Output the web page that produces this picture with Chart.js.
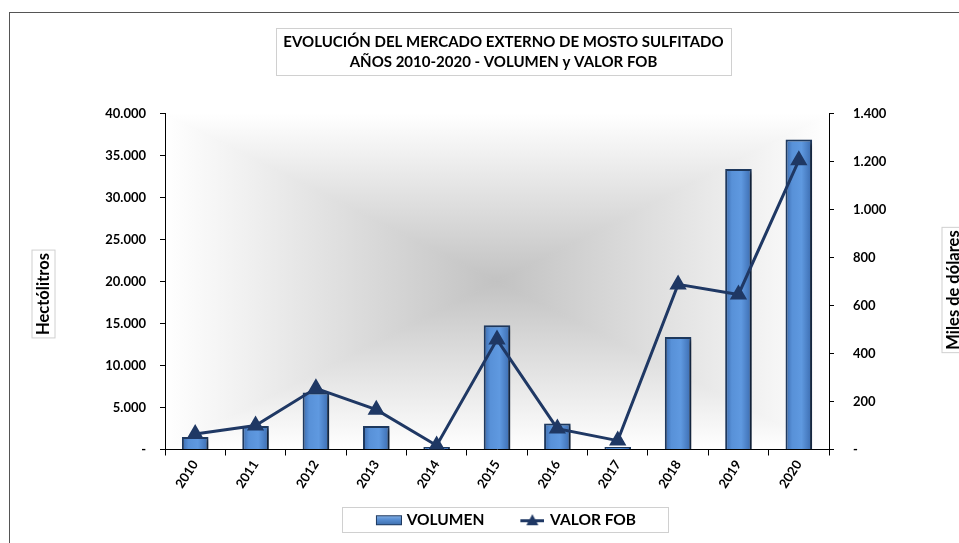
<!DOCTYPE html>
<html>
<head>
<meta charset="utf-8">
<script src="https://cdn.jsdelivr.net/npm/chart.js@4.4.1/dist/chart.umd.min.js"></script>
<style>
  html, body { margin: 0; padding: 0; background: #fff; }
  #wrap { width: 959px; height: 543px; }
</style>
</head>
<body>
<div id="wrap"><canvas id="chart" width="959" height="543"></canvas></div>
<script>
// data
var years = ['2010', '2011', '2012', '2013', '2014', '2015', '2016', '2017', '2018', '2019', '2020'];
var volumen = [1500, 2800, 6800, 2800, 300, 14800, 3100, 300, 13400, 33400, 36900];
var valorFob = [65, 100, 255, 166, 17, 458, 87, 37, 688, 646, 1205];
var volTicks = [0, 5000, 10000, 15000, 20000, 25000, 30000, 35000, 40000];
var fobTicks = [0, 200, 400, 600, 800, 1000, 1200, 1400];

var FONT = 'Lato, "Open Sans", sans-serif';
var NAVY = '#1F3864';
var BAR_PCT = 0.44;

function miles(v) {
    if (v === 0) return '-';
    return String(v).replace(/\B(?=(\d{3})+(?!\d))/g, '.');
}

// bar fill: darker edges, lighter middle (a bit like the bevel in the original)
function barFill(context) {
    var chart = context.chart;
    var xs = chart.scales && chart.scales.x;
    if (!xs || context.dataIndex === undefined || !chart.chartArea) return '#5891D8';
    var cx = xs.getPixelForValue(context.dataIndex);
    var half = xs.width / years.length * BAR_PCT / 2;
    var g = chart.ctx.createLinearGradient(cx - half, 0, cx + half, 0);
    g.addColorStop(0, '#3A6AAE');
    g.addColorStop(0.25, '#5891D8');
    g.addColorStop(0.6, '#5F99E0');
    g.addColorStop(1, '#3A6AAE');
    return g;
}

// legend icons (bar swatch and line with triangle)
function barIcon() {
    var c = document.createElement('canvas');
    c.width = 54; c.height = 12;
    var x = c.getContext('2d');
    var g = x.createLinearGradient(0, 1, 0, 11);
    g.addColorStop(0, '#8DB4E2');
    g.addColorStop(0.4, '#5A91D6');
    g.addColorStop(1, '#3E6DAA');
    x.fillStyle = g;
    x.fillRect(28, 1.5, 26, 9);
    x.strokeStyle = '#1F3A60';
    x.lineWidth = 1;
    x.strokeRect(28.5, 1.5, 25, 9);
    return c;
}
function lineIcon() {
    var c = document.createElement('canvas');
    c.width = 52; c.height = 14;
    var x = c.getContext('2d');
    x.strokeStyle = NAVY;
    x.lineWidth = 3;
    x.beginPath(); x.moveTo(28, 7.5); x.lineTo(52, 7.5); x.stroke();
    x.fillStyle = NAVY;
    x.beginPath(); x.moveTo(40, 1); x.lineTo(46, 12); x.lineTo(34, 12); x.closePath(); x.fill();
    return c;
}

// rectangular "from centre" gradient behind the plot + outer frame
var plotBackground = {
    id: 'plotBackground',
    afterLayout: function (chart) {
        // nudge the legend a little to the left, as in the original
        chart.legend.left -= 10;
        chart.legend.right -= 10;
    },
    beforeDraw: function (chart) {
        var ctx = chart.ctx, a = chart.chartArea;
        var cx = (a.left + a.right) / 2, cy = (a.top + a.bottom) / 2;
        var edge = '#ffffff', mid = '#c2c2c2';
        ctx.save();
        ctx.strokeStyle = '#555';
        ctx.lineWidth = 1;
        ctx.strokeRect(9.5, 12.5, 1200, 600);
        var parts = [
            [[a.left, a.top], [a.right, a.top], [0, a.top, 0, cy]],
            [[a.right, a.bottom], [a.left, a.bottom], [0, a.bottom, 0, cy]],
            [[a.left, a.bottom], [a.left, a.top], [a.left, 0, cx, 0]],
            [[a.right, a.top], [a.right, a.bottom], [a.right, 0, cx, 0]]
        ];
        parts.forEach(function (p) {
            var g = ctx.createLinearGradient(p[2][0], p[2][1], p[2][2], p[2][3]);
            g.addColorStop(0, edge);
            g.addColorStop(1, mid);
            ctx.fillStyle = g;
            ctx.strokeStyle = g;
            ctx.lineWidth = 1;
            ctx.beginPath();
            ctx.moveTo(p[0][0], p[0][1]);
            ctx.lineTo(p[1][0], p[1][1]);
            ctx.lineTo(cx, cy);
            ctx.closePath();
            ctx.fill();
            ctx.stroke();
        });
        ctx.restore();
    },
    beforeDatasetDraw: function (chart, args) {
        if (args.index !== 0) return;
        var ctx = chart.ctx;
        ctx.save();
        ctx.shadowColor = 'rgba(0,0,0,0.45)';
        ctx.shadowBlur = 4;
        ctx.shadowOffsetX = 3;
        ctx.shadowOffsetY = 2;
    },
    afterDatasetDraw: function (chart, args) {
        if (args.index !== 0) return;
        chart.ctx.restore();
    }
};

// boxes round the title and legend, axis titles
var boxes = {
    id: 'boxes',
    afterDraw: function (chart) {
        var ctx = chart.ctx;
        ctx.save();
        ctx.strokeStyle = '#d0d0d0';
        ctx.lineWidth = 1;
        ctx.strokeRect(276.5, 28.5, 455, 47);

        var hb = chart.legend.legendHitBoxes;
        if (hb && hb.length) {
            var l = hb[0].left, r = hb[hb.length - 1].left + hb[hb.length - 1].width;
            var cy = hb[0].top + hb[0].height / 2;
            ctx.strokeRect(Math.round(l - 9) + 0.5, Math.round(cy - 13) + 0.5, Math.round(r + 32 - (l - 9)), 25);
        }

        ctx.font = 'bold 16.5px ' + FONT;
        ctx.fillStyle = '#000';
        ctx.textAlign = 'center';
        ctx.textBaseline = 'middle';
        var axisTitles = [['Hectólitros', 43, 294], ['Miles de dólares', 953, 290]];
        axisTitles.forEach(function (t) {
            var w = ctx.measureText(t[0]).width;
            ctx.save();
            ctx.translate(t[1], t[2]);
            ctx.rotate(-Math.PI / 2);
            ctx.fillText(t[0], 0, 1);
            ctx.strokeRect(-w / 2 - 3, -11, w + 6, 23);
            ctx.restore();
        });
        ctx.restore();
    }
};

new Chart(document.getElementById('chart'), {
    data: {
        labels: years,
        datasets: [{
            type: 'bar',
            label: 'VOLUMEN',
            data: volumen,
            yAxisID: 'yVol',
            order: 2,
            backgroundColor: barFill,
            borderColor: '#1F3A60',
            borderWidth: 2,
            barPercentage: BAR_PCT,
            categoryPercentage: 1
        }, {
            type: 'line',
            label: 'VALOR FOB',
            data: valorFob,
            yAxisID: 'yFob',
            order: 1,
            borderColor: NAVY,
            backgroundColor: NAVY,
            borderWidth: 3,
            pointStyle: 'triangle',
            pointRadius: 7,
            pointBackgroundColor: NAVY,
            pointBorderColor: NAVY,
            tension: 0
        }]
    },
    options: {
        responsive: false,
        animation: false,
        devicePixelRatio: 1,
        layout: { padding: { left: 48, right: 0, top: 0, bottom: 5 } },
        scales: {
            x: {
                grid: { drawOnChartArea: false, color: '#000', tickLength: 6, offset: true },
                border: { color: '#000', width: 1 },
                ticks: {
                    color: '#000',
                    font: { family: FONT, size: 13, weight: 'bold' },
                    maxRotation: 57,
                    minRotation: 57,
                    padding: 2
                },
                afterFit: function (s) { s.height = 53; }
            },
            yVol: {
                position: 'left',
                min: 0,
                max: 40000,
                grid: { drawOnChartArea: false, color: '#000', tickLength: 5 },
                border: { color: '#000', width: 1 },
                ticks: {
                    color: '#000',
                    font: { family: FONT, size: 13, weight: 'bold' },
                    padding: 14,
                    callback: function (v) { return miles(v); }
                },
                afterBuildTicks: function (s) { s.ticks = volTicks.map(function (v) { return { value: v }; }); },
                afterFit: function (s) { s.width = 117; }
            },
            yFob: {
                position: 'right',
                min: 0,
                max: 1400,
                grid: { drawOnChartArea: false, color: '#000', tickLength: 5 },
                border: { color: '#000', width: 1 },
                ticks: {
                    color: '#000',
                    font: { family: FONT, size: 13, weight: 'bold' },
                    padding: 19,
                    callback: function (v) { return miles(v); }
                },
                afterBuildTicks: function (s) { s.ticks = fobTicks.map(function (v) { return { value: v }; }); },
                afterFit: function (s) { s.width = 130; }
            }
        },
        plugins: {
            title: {
                display: true,
                text: ['EVOLUCIÓN DEL MERCADO EXTERNO DE MOSTO SULFITADO', 'AÑOS 2010-2020 - VOLUMEN y VALOR FOB'],
                color: '#000',
                font: { family: FONT, size: 15, weight: 'bold', lineHeight: 1.35 },
                padding: { top: 32, bottom: 41 }
            },
            legend: {
                position: 'bottom',
                labels: {
                    color: '#000',
                    font: { family: FONT, size: 15.5, weight: 'bold' },
                    usePointStyle: true,
                    pointStyleWidth: 48,
                    padding: 10,
                    generateLabels: function (chart) {
                        return [
                            { text: 'VOLUMEN', pointStyle: barIcon(), datasetIndex: 0, fontColor: '#000', lineWidth: 0 },
                            { text: 'VALOR FOB', pointStyle: lineIcon(), datasetIndex: 1, fontColor: '#000', lineWidth: 0 }
                        ];
                    }
                }
            },
            tooltip: { enabled: false }
        }
    },
    plugins: [plotBackground, boxes]
});
</script>
</body>
</html>
